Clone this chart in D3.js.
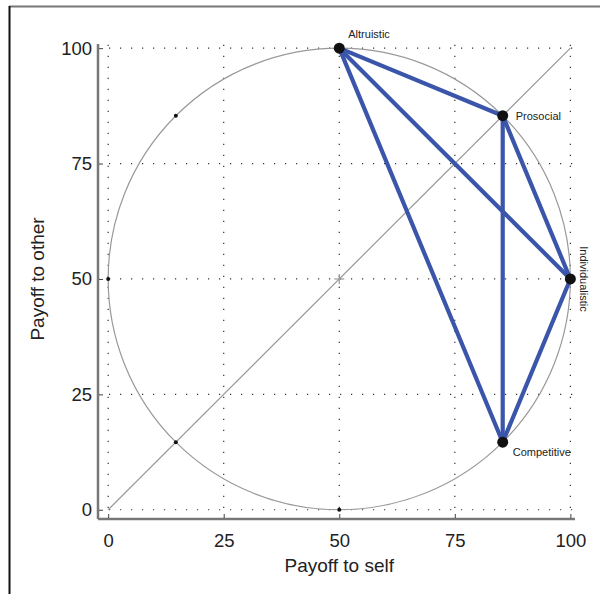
<!DOCTYPE html>
<html><head><meta charset="utf-8">
<script src="https://cdn.jsdelivr.net/npm/d3@7"></script>
<style>body{margin:0;background:#fff}svg{display:block}text{font-family:"Liberation Sans",Arial,sans-serif;fill:#222}</style>
</head><body>
<script>
const xTicks = [0, 25, 50, 75, 100];
const yTicks = [0, 25, 50, 75, 100];
const orientations = ["Altruistic", "Prosocial", "Individualistic", "Competitive"];
const selfPayoff = [50, 85.36, 100, 85.36];
const otherPayoff = [100, 85.36, 50, 14.64];
const minorSelf = [50, 0, 14.64, 14.64];
const minorOther = [0, 50, 14.64, 85.36];
const circleCenter = [50, 50];
const circleRadius = 50;

const W = 600, H = 594;
const svg = d3.select("body").append("svg").attr("width", W).attr("height", H);
const x = d3.scaleLinear().domain([-2.2, 101]).range([98, 575]);
const y = d3.scaleLinear().domain([-2, 100.9]).range([519, 44]);

// frame
svg.append("line").attr("x1", 9).attr("x2", 600).attr("y1", 6.5).attr("y2", 6.5).attr("stroke", "#777").attr("stroke-width", 2);
svg.append("line").attr("x1", 9.5).attr("x2", 9.5).attr("y1", 6).attr("y2", 594).attr("stroke", "#111").attr("stroke-width", 2);

// grid
const grid = svg.append("g").attr("stroke", "#333").attr("stroke-width", 1.2).attr("stroke-dasharray", "1.2,9.8");
xTicks.forEach(t => grid.append("line").attr("x1", x(t)).attr("x2", x(t)).attr("y1", y(-2)).attr("y2", y(100.9)));
yTicks.forEach(t => grid.append("line").attr("y1", y(t)).attr("y2", y(t)).attr("x1", x(-2.2)).attr("x2", x(101)));

// axes
const xAxis = d3.axisBottom(x).tickValues(xTicks).tickSize(-5).tickPadding(15).tickFormat(d3.format("d"));
const yAxis = d3.axisLeft(y).tickValues(yTicks).tickSize(-5).tickPadding(6).tickFormat(d3.format("d"));
const gx = svg.append("g").attr("transform", `translate(0,${y(-2)})`).call(xAxis);
const gy = svg.append("g").attr("transform", `translate(${x(-2.2)},0)`).call(yAxis);
[gx, gy].forEach(g => {
  g.select(".domain").remove();
  g.selectAll(".tick line").attr("stroke", "#444").attr("stroke-width", 1);
  g.selectAll(".tick text").attr("font-size", 18.5).attr("fill", "#222").attr("font-family", "Liberation Sans, Arial, sans-serif");
});
svg.append("line").attr("x1", x(-2.2)).attr("x2", x(101)).attr("y1", y(-2)).attr("y2", y(-2)).attr("stroke", "#777").attr("stroke-width", 2.5);
svg.append("line").attr("x1", x(-2.2)).attr("x2", x(-2.2)).attr("y1", y(-2)).attr("y2", y(100.9)).attr("stroke", "#777").attr("stroke-width", 2.5);

// circle and diagonal
svg.append("ellipse").attr("cx", x(circleCenter[0])).attr("cy", y(circleCenter[1]))
  .attr("rx", x(circleRadius) - x(0)).attr("ry", y(0) - y(circleRadius))
  .attr("fill", "none").attr("stroke", "#999").attr("stroke-width", 1.2);
svg.append("line").attr("x1", x(0)).attr("y1", y(0)).attr("x2", x(100)).attr("y2", y(100)).attr("stroke", "#999").attr("stroke-width", 1.2);
// center plus
svg.append("line").attr("x1", x(50) - 5).attr("x2", x(50) + 5).attr("y1", y(50)).attr("y2", y(50)).attr("stroke", "#999").attr("stroke-width", 1.2);
svg.append("line").attr("y1", y(50) - 5).attr("y2", y(50) + 5).attr("x1", x(50)).attr("x2", x(50)).attr("stroke", "#999").attr("stroke-width", 1.2);

// minor dots
minorSelf.forEach((s, i) => svg.append("circle").attr("cx", x(s)).attr("cy", y(minorOther[i])).attr("r", 2).attr("fill", "#111"));

// blue connections
const pairs = [];
for (let i = 0; i < orientations.length; i++) for (let j = i + 1; j < orientations.length; j++) pairs.push([i, j]);
svg.append("g").selectAll("line").data(pairs).join("line")
  .attr("x1", d => x(selfPayoff[d[0]])).attr("y1", d => y(otherPayoff[d[0]]))
  .attr("x2", d => x(selfPayoff[d[1]])).attr("y2", d => y(otherPayoff[d[1]]))
  .attr("stroke", "#3a55a9").attr("stroke-width", 4.2).attr("stroke-linecap", "round");

// major dots
svg.append("g").selectAll("circle").data(orientations).join("circle")
  .attr("cx", (d, i) => x(selfPayoff[i])).attr("cy", (d, i) => y(otherPayoff[i])).attr("r", 5.5).attr("fill", "#111");

// labels
const lab = svg.append("g").attr("font-size", 11);
lab.append("text").attr("x", x(selfPayoff[0]) + 9).attr("y", y(otherPayoff[0]) - 10).text(orientations[0]);
lab.append("text").attr("x", x(selfPayoff[1]) + 13).attr("y", y(otherPayoff[1]) + 4).text(orientations[1]);
lab.append("text").attr("transform", `translate(${x(selfPayoff[2]) + 10},${y(otherPayoff[2])}) rotate(90)`).attr("text-anchor", "middle").text(orientations[2]);
lab.append("text").attr("x", x(selfPayoff[3]) + 10).attr("y", y(otherPayoff[3]) + 14).text(orientations[3]);

// axis titles
svg.append("text").attr("x", x(50)).attr("y", 572).attr("text-anchor", "middle").attr("font-size", 19).text("Payoff to self");
svg.append("text").attr("transform", `translate(44,${y(50)}) rotate(-90)`).attr("text-anchor", "middle").attr("font-size", 19).text("Payoff to other");
</script>
</body></html>
